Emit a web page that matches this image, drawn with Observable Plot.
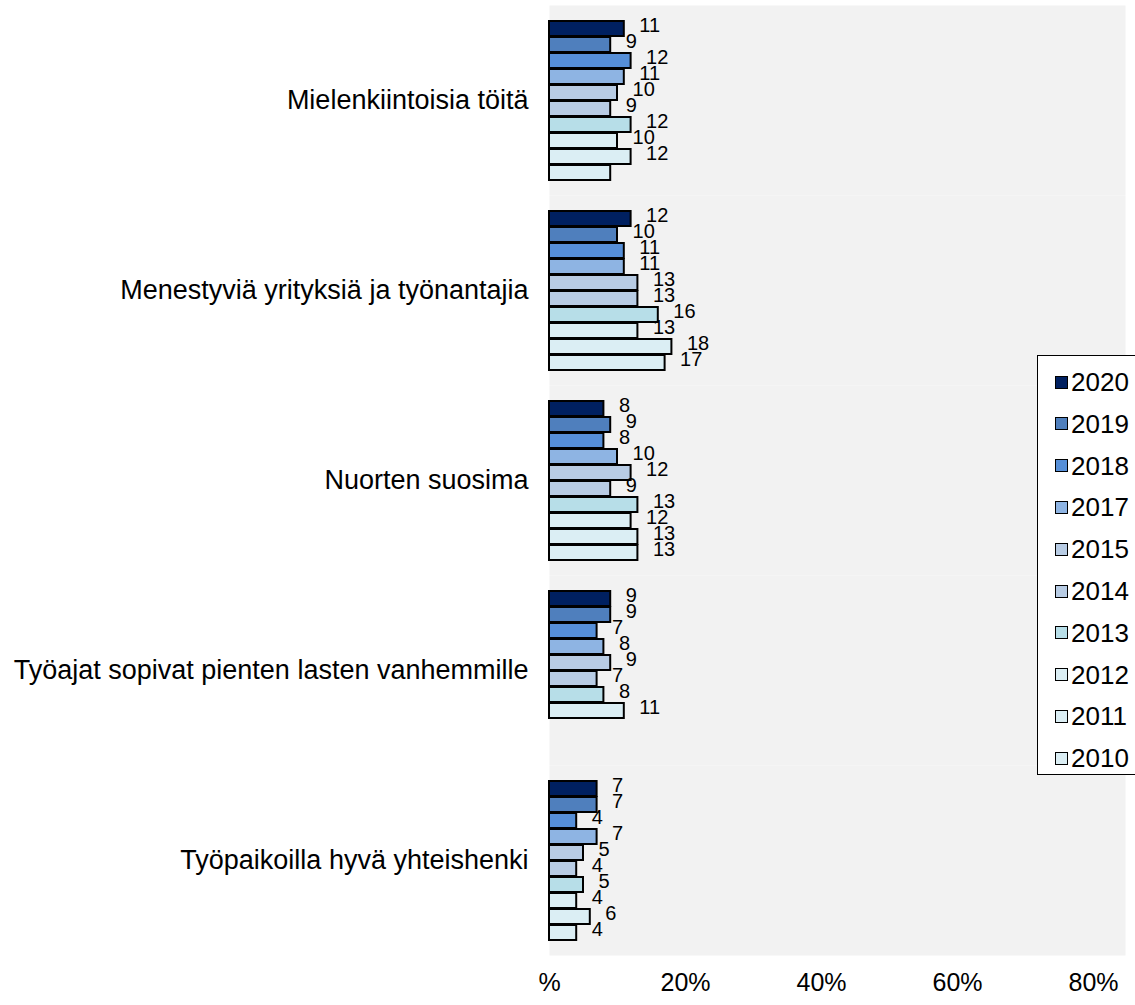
<!DOCTYPE html>
<html>
<head>
<meta charset="utf-8">
<script src="https://cdn.jsdelivr.net/npm/d3@7"></script>
<script src="https://cdn.jsdelivr.net/npm/@observablehq/plot@0.6"></script>
<style>
  html, body { margin: 0; padding: 0; background: white; overflow: hidden; }
  #wrap { position: relative; width: 1135px; height: 1005px; font-family: "Liberation Sans", Arial, sans-serif; }
  #legend { position: absolute; left: 1037px; top: 355px; width: 110px; height: 420px; border: 1.5px solid #000; background: white; box-sizing: border-box; }
  .item { position: absolute; left: 17px; display: flex; align-items: center; font-size: 26px; color: #000; line-height: 1; }
  .sw { width: 11px; height: 11px; border: 1.5px solid #000; margin-right: 3px; box-sizing: content-box; }
</style>
</head>
<body>
<div id="wrap"></div>
<script>
const categories = [
  "Mielenkiintoisia töitä",
  "Menestyviä yrityksiä ja työnantajia",
  "Nuorten suosima",
  "Työajat sopivat pienten lasten vanhemmille",
  "Työpaikoilla hyvä yhteishenki"
];
const years = ["2020","2019","2018","2017","2015","2014","2013","2012","2011","2010"];
const colors = ["#002060","#4F7FBD","#568FD8","#8EB4E3","#B8CCE4","#B8CCE4","#B7DEE8","#DBEEF4","#DBEEF4","#DBEEF4"];

// values per category, in the order of `years` (null = no bar)
const mielenkiintoisia = [11, 9, 12, 11, 10, 9, 12, 10, 12, 9];
const mielenkiintoisiaLabels = ["11","9","12","11","10","9","12","10","12", null];
const menestyvia = [12, 10, 11, 11, 13, 13, 16, 13, 18, 17];
const nuorten = [8, 9, 8, 10, 12, 9, 13, 12, 13, 13];
const tyoajat = [9, 9, 7, 8, 9, 7, 8, 11, null, null];
const tyopaikoilla = [7, 7, 4, 7, 5, 4, 5, 4, 6, 4];

const xTicks = [0, 20, 40, 60, 80];
const xTickLabels = ["%", "20%", "40%", "60%", "80%"];

const series = [mielenkiintoisia, menestyvia, nuorten, tyoajat, tyopaikoilla];
const data = [];
series.forEach((vals, ci) => {
  vals.forEach((v, yi) => {
    if (v == null) return;
    let label = String(v);
    if (ci === 0) label = mielenkiintoisiaLabels[yi];
    data.push({cat: categories[ci], year: years[yi], value: v, label});
  });
});

const fmt = d => xTickLabels[xTicks.indexOf(d)];

const chart = Plot.plot({
  width: 1135,
  height: 1005,
  marginLeft: 549,
  marginRight: 10,
  marginTop: 3,
  marginBottom: 48,
  style: {fontFamily: "'Liberation Sans', Arial, sans-serif", background: "white", color: "#000"},
  x: {domain: [0, 84.7]},
  fy: {domain: categories, padding: 0},
  y: {domain: years, paddingInner: 0.08, paddingOuter: 0.85, axis: null},
  color: {domain: years, range: colors},
  marks: [
    Plot.frame({fill: "#F2F2F2", stroke: null}),
    Plot.axisFy({anchor: "left", tickSize: 0, tickPadding: 21, fontSize: 27, label: null}),
    Plot.axisX({anchor: "bottom", ticks: xTicks, tickFormat: fmt, tickSize: 0, tickPadding: 18, fontSize: 25, label: null}),
    Plot.barX(data, {fy: "cat", y: "year", x: "value", fill: "year", stroke: "#000", strokeWidth: 2}),
    Plot.text(data.filter(d => d.label != null), {fy: "cat", y: "year", x: "value", text: "label", textAnchor: "start", dx: 15, dy: -3, fontSize: 20, fill: "#000"})
  ]
});

const wrap = document.getElementById("wrap");
wrap.appendChild(chart);

const legend = document.createElement("div");
legend.id = "legend";
years.forEach((y, i) => {
  const it = document.createElement("div");
  it.className = "item";
  it.style.top = (26 + i * 41.8 - 13) + "px";
  const sw = document.createElement("span");
  sw.className = "sw";
  sw.style.background = colors[i];
  it.appendChild(sw);
  const t = document.createElement("span");
  t.textContent = y;
  it.appendChild(t);
  legend.appendChild(it);
});
wrap.appendChild(legend);
</script>
</body>
</html>
